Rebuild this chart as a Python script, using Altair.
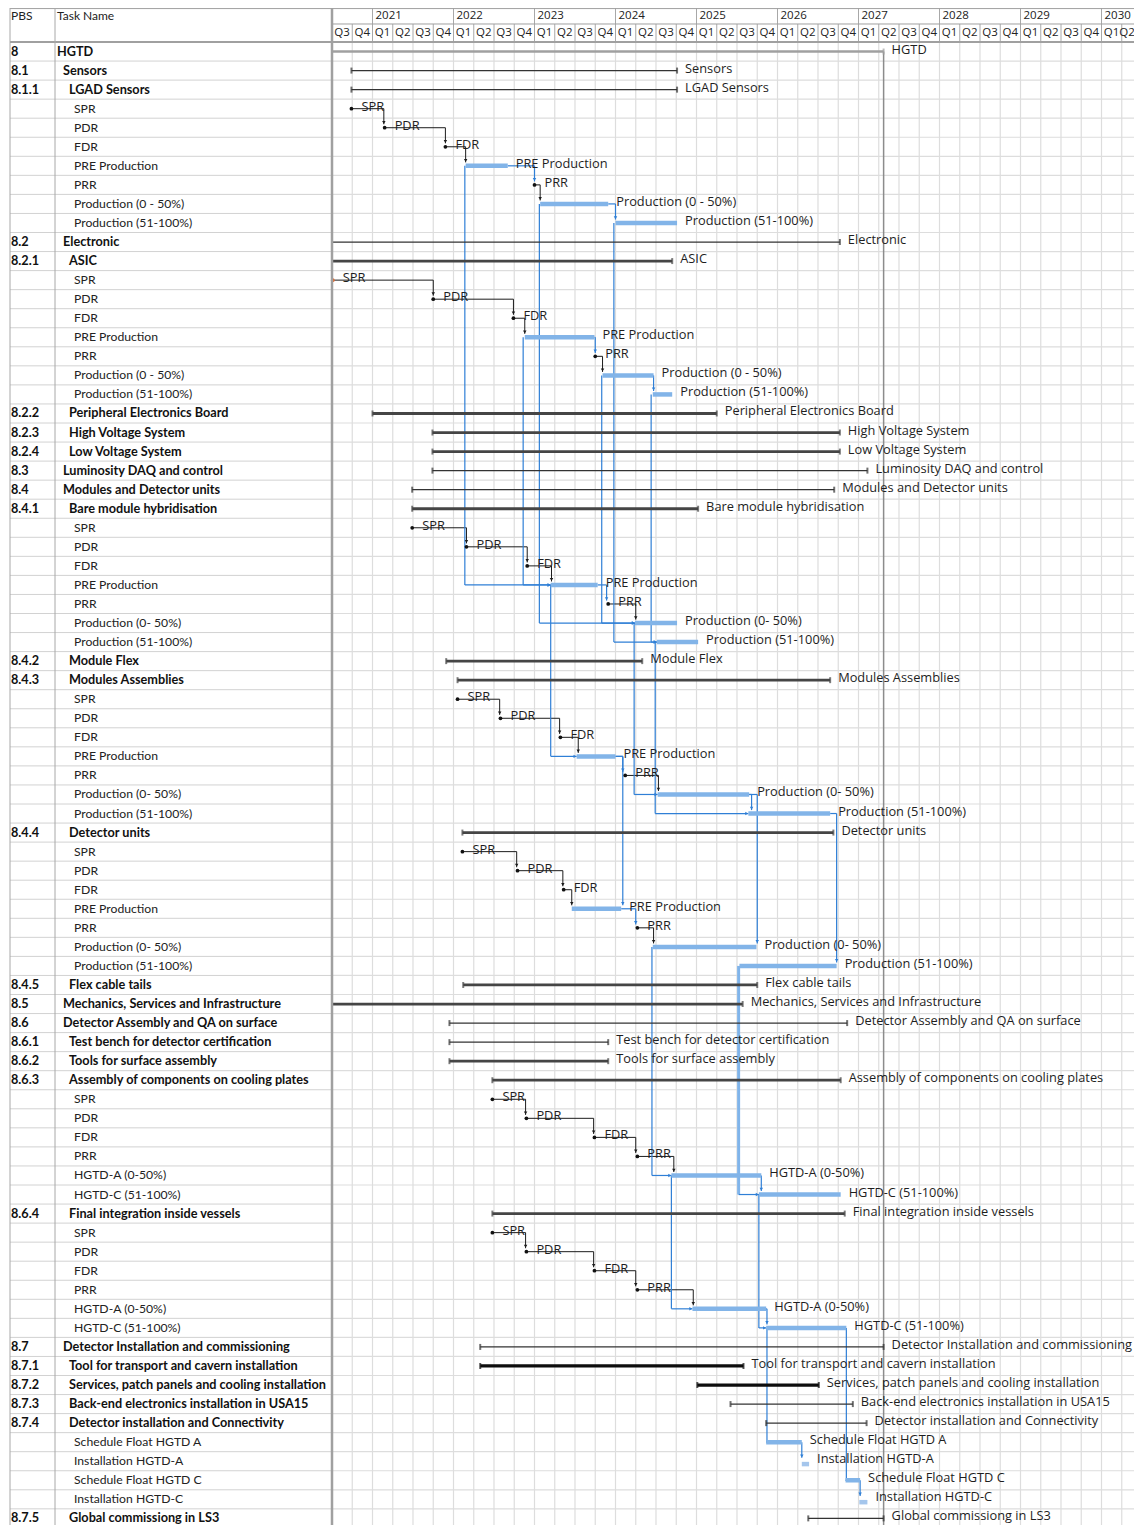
import altair as alt
import pandas as pd

# ---------------- data ----------------
pbs = ["8", "8.1", "8.1.1", "", "", "", "", "", "", "",
       "8.2", "8.2.1", "", "", "", "", "", "", "",
       "8.2.2", "8.2.3", "8.2.4", "8.3", "8.4", "8.4.1", "", "", "", "", "", "", "",
       "8.4.2", "8.4.3", "", "", "", "", "", "", "",
       "8.4.4", "", "", "", "", "", "", "",
       "8.4.5", "8.5", "8.6", "8.6.1", "8.6.2", "8.6.3", "", "", "", "", "", "",
       "8.6.4", "", "", "", "", "", "",
       "8.7", "8.7.1", "8.7.2", "8.7.3", "8.7.4", "", "", "", "", "8.7.5"]

task_names = [
    "HGTD", "Sensors", "LGAD Sensors", "SPR", "PDR", "FDR", "PRE Production", "PRR",
    "Production  (0 - 50%)", "Production  (51-100%)",
    "Electronic", "ASIC", "SPR", "PDR", "FDR", "PRE Production", "PRR",
    "Production  (0 - 50%)", "Production  (51-100%)",
    "Peripheral Electronics Board", "High Voltage System", "Low Voltage System",
    "Luminosity DAQ and control", "Modules and Detector units", "Bare module hybridisation",
    "SPR", "PDR", "FDR", "PRE Production", "PRR", "Production (0- 50%)", "Production (51-100%)",
    "Module Flex", "Modules Assemblies", "SPR", "PDR", "FDR", "PRE Production", "PRR",
    "Production (0- 50%)", "Production (51-100%)",
    "Detector units", "SPR", "PDR", "FDR", "PRE Production", "PRR",
    "Production (0- 50%)", "Production (51-100%)",
    "Flex cable tails", "Mechanics, Services and Infrastructure",
    "Detector Assembly and QA on surface", "Test bench for detector certification",
    "Tools for surface assembly", "Assembly of components on cooling plates",
    "SPR", "PDR", "FDR", "PRR", "HGTD-A (0-50%)", "HGTD-C (51-100%)",
    "Final integration inside vessels", "SPR", "PDR", "FDR", "PRR",
    "HGTD-A (0-50%)", "HGTD-C (51-100%)",
    "Detector Installation and commissioning", "Tool for transport and cavern installation",
    "Services, patch panels and cooling installation", "Back-end electronics installation in USA15",
    "Detector installation and Connectivity", "Schedule Float HGTD A", "Installation HGTD-A",
    "Schedule Float HGTD C", "Installation HGTD-C", "Global commissiong in LS3"]

# P project, s thin summary, S thick summary, K black summary, t task bar,
# i installation bar, m milestone, e milestone before the timescale
kinds = ["P", "s", "s", "m", "m", "m", "t", "m", "t", "t",
         "s", "S", "e", "m", "m", "t", "m", "t", "t",
         "S", "S", "S", "s", "s", "S", "m", "m", "m", "t", "m", "t", "t",
         "S", "S", "m", "m", "m", "t", "m", "t", "t",
         "S", "m", "m", "m", "t", "m", "t", "t",
         "S", "S", "s", "s", "S", "S", "m", "m", "m", "m", "t", "t",
         "S", "m", "m", "m", "m", "t", "t",
         "s", "K", "K", "s", "s", "t", "i", "t", "i", "s"]

starts = [2020.30, 2020.74, 2020.74, 2020.74, 2021.15, 2021.90, 2022.15, 2023.00, 2023.07, 2024.00,
          2020.30, 2020.30, 2020.51, 2021.75, 2022.74, 2022.88, 2023.75, 2023.84, 2024.46,
          2021.00, 2021.74, 2021.74, 2021.74, 2021.49, 2021.49, 2021.49, 2022.16, 2022.91, 2023.20,
          2023.91, 2024.24, 2024.51,
          2021.91, 2022.05, 2022.05, 2022.58, 2023.32, 2023.52, 2024.12, 2024.52, 2025.64,
          2022.11, 2022.11, 2022.79, 2023.36, 2023.46, 2024.27, 2024.46, 2025.53,
          2022.12, 2020.30, 2021.95, 2021.95, 2021.95, 2022.48, 2022.48, 2022.90, 2023.74, 2024.27,
          2024.69, 2025.77,
          2022.48, 2022.48, 2022.90, 2023.74, 2024.27, 2024.95, 2025.86,
          2022.33, 2022.33, 2025.01, 2025.42, 2025.86, 2025.86, 2026.30, 2026.84, 2027.01, 2026.38]

ends = [2027.31, 2024.76, 2024.76, 2020.74, 2021.15, 2021.90, 2022.67, 2023.00, 2023.91, 2024.76,
        2026.77, 2024.70, 2020.51, 2021.75, 2022.74, 2023.74, 2023.75, 2024.47, 2024.70,
        2025.25, 2026.77, 2026.77, 2027.11, 2026.70, 2025.02, 2021.49, 2022.16, 2022.91, 2023.78,
        2023.91, 2024.76, 2025.02,
        2024.33, 2026.65, 2022.05, 2022.58, 2023.32, 2024.00, 2024.12, 2025.65, 2026.65,
        2026.69, 2022.11, 2022.79, 2023.36, 2024.07, 2024.27, 2025.74, 2026.73,
        2025.75, 2025.57, 2026.86, 2023.91, 2023.91, 2026.78, 2022.48, 2022.90, 2023.74, 2024.27,
        2025.80, 2026.78,
        2026.83, 2022.48, 2022.90, 2023.74, 2024.27, 2025.86, 2026.85,
        2027.31, 2025.58, 2026.51, 2026.93, 2027.10, 2026.30, 2026.39, 2027.02, 2027.11, 2027.31]

project_finish = 2027.31

# dependency links: from row/x -> to row/x ; HV = across then down, VH = down then across
link_from_row = [3, 4, 5, 6, 7, 8, 12, 13, 14, 15, 16, 17,
                 25, 26, 27, 28, 29, 34, 35, 36, 37, 38, 39,
                 42, 43, 44, 45, 46, 55, 56, 57, 58, 59, 62, 63, 64, 65, 66, 73, 75,
                 37, 39, 40,
                 6, 15, 8, 17, 9, 18, 28, 30, 31, 47, 48, 59, 60, 67, 67]
link_from_x = [2020.74, 2021.15, 2021.90, 2022.67, 2023.00, 2023.91, 2020.51, 2021.75, 2022.74, 2023.74, 2023.75, 2024.47,
               2021.49, 2022.16, 2022.91, 2023.78, 2023.91, 2022.05, 2022.58, 2023.32, 2024.00, 2024.12, 2025.65,
               2022.11, 2022.79, 2023.36, 2024.07, 2024.27, 2022.48, 2022.90, 2023.74, 2024.27, 2025.80,
               2022.48, 2022.90, 2023.74, 2024.27, 2025.86, 2026.30, 2027.02,
               2024.00, 2025.65, 2026.65,
               2022.14, 2022.86, 2023.06, 2023.83, 2023.98, 2024.44, 2023.20, 2024.23, 2024.49,
               2024.45, 2025.52, 2024.69, 2025.77, 2025.87, 2026.85]
link_to_row = [4, 5, 6, 7, 8, 9, 13, 14, 15, 16, 17, 18,
               26, 27, 28, 29, 30, 35, 36, 37, 38, 39, 40,
               43, 44, 45, 46, 47, 56, 57, 58, 59, 60, 63, 64, 65, 66, 67, 74, 76,
               45, 47, 48,
               28, 28, 30, 30, 31, 31, 37, 39, 40, 59, 60, 66, 67, 73, 75]
link_to_x = [2021.14, 2021.90, 2022.15, 2023.00, 2023.07, 2024.00, 2021.75, 2022.74, 2022.88, 2023.75, 2023.84, 2024.47,
             2022.16, 2022.91, 2023.21, 2023.89, 2024.25, 2022.57, 2023.31, 2023.54, 2024.09, 2024.53, 2025.68,
             2022.78, 2023.35, 2023.46, 2024.25, 2024.47, 2022.89, 2023.73, 2024.25, 2024.72, 2025.80,
             2022.89, 2023.73, 2024.25, 2024.96, 2025.87, 2026.30, 2027.02,
             2024.09, 2025.75, 2026.73,
             2023.20, 2023.20, 2024.24, 2024.24, 2024.51, 2024.51, 2023.52, 2024.52, 2025.64,
             2024.69, 2025.77, 2024.95, 2025.86, 2025.86, 2026.84]
link_shape = (["HV"] * 43) + (["VH"] * 15)
link_style = ["k", "k", "k", "b", "k", "b", "k", "k", "k", "b", "k", "b",
              "k", "k", "k", "b", "k", "k", "k", "k", "b", "k", "b",
              "k", "k", "k", "b", "k", "k", "k", "k", "k", "b", "k", "k", "k", "k", "b", "b", "b",
              "b", "b", "b",
              "b", "b", "b", "b", "b", "b", "b", "b", "b", "b", "B", "b", "b", "b", "b"]

years = [2021, 2022, 2023, 2024, 2025, 2026, 2027, 2028, 2029, 2030]
quarter_labels = ["Q3", "Q4"] + ["Q1", "Q2", "Q3", "Q4"] * 9 + ["Q1", "Q2"]

# ---------------- layout ----------------
NROW = len(task_names)
W, H = 1126, 1517            # drawing fits the 1142x1533 window minus 8px margins
W_TAB = 324                  # table columns width (px)
YEAR_PX = 81.0               # px per year on the timescale
ROW_PX = 19.05
HDR_PX = 34.0
X0, X1 = 2020.5, 2030.5
XV = X0 + (W - W_TAB) / YEAR_PX   # last visible time value
HDR = -HDR_PX / ROW_PX
SEP = -0.945                 # line between year row and quarter row
YEAR_Y, QUARTER_Y = -1.36, -0.473

LABEL_FONT = "Open Sans"
LABEL_SIZE = 12.8
TABLE_FONT = "Lato"

xs = alt.Scale(domain=[X0, X1], range=[W_TAB, W_TAB + YEAR_PX * (X1 - X0)], clamp=True,
               nice=False, zero=False)
ys = alt.Scale(domain=[HDR, NROW], range=[0, HDR_PX + ROW_PX * NROW], nice=False, zero=False)


def X(f):
    return alt.X(f, type="quantitative", scale=xs, axis=None)


def Y(f):
    return alt.Y(f, type="quantitative", scale=ys, axis=None)


def PX(f):
    return alt.X(f, type="quantitative", scale=None)


df = pd.DataFrame(dict(row=list(range(NROW)), pbs=pbs, name=task_names, kind=kinds,
                       start=starts, end=ends))
df["yc"] = df["row"] + 0.5

quarter_pos = [X0 + 0.25 * k for k in range(len(quarter_labels))]

# ---------------- timescale grid & header ----------------
gv = pd.DataFrame({"x": quarter_pos[1:], "y0": 0.0, "y1": float(NROW)})
grid_v = alt.Chart(gv).mark_rule(color="#dddddd", strokeWidth=1.2).encode(
    x=X("x"), y=Y("y0"), y2="y1")
gh = pd.DataFrame({"y": [float(i) for i in range(1, NROW + 1)], "x0": X0, "x1": X1})
grid_h = alt.Chart(gh).mark_rule(color="#dddddd", strokeWidth=1.2).encode(
    x=X("x0"), x2="x1", y=Y("y"))

hq = pd.DataFrame({"x": quarter_pos[1:], "y0": SEP, "y1": 0.0})
hdr_q = alt.Chart(hq).mark_rule(color="#a8a8a8", strokeWidth=1).encode(x=X("x"), y=Y("y0"), y2="y1")
hy = pd.DataFrame({"x": [float(y) for y in years], "y0": HDR, "y1": SEP})
hdr_y = alt.Chart(hy).mark_rule(color="#a8a8a8", strokeWidth=1).encode(x=X("x"), y=Y("y0"), y2="y1")
hl = pd.DataFrame({"y": [HDR + 0.03, SEP, 0.0], "w": [1.0, 1.0, 2.0], "x0": X0, "x1": X1})
hdr_lines = alt.Chart(hl).mark_rule(color="#a0a0a0").encode(
    x=X("x0"), x2="x1", y=Y("y"), strokeWidth=alt.StrokeWidth("w:Q", scale=None))

yt = pd.DataFrame({"x": [float(y) for y in years], "t": [str(y) for y in years], "y": YEAR_Y})
year_text = alt.Chart(yt).mark_text(align="left", dx=3, fontSize=11.5, font=LABEL_FONT,
                                    color="#222222").encode(x=X("x"), y=Y("y"), text="t:N")
qt = pd.DataFrame({"x": [min(q + 0.125, XV - 0.085) for q in quarter_pos], "t": quarter_labels,
                   "y": QUARTER_Y})
quarter_text = alt.Chart(qt).mark_text(align="center", fontSize=11.5, font=LABEL_FONT,
                                       color="#222222").encode(x=X("x"), y=Y("y"), text="t:N")

edge = pd.DataFrame({"x": [X0], "y0": HDR, "y1": float(NROW)})
left_edge = alt.Chart(edge).mark_rule(color="#a0a0a0", strokeWidth=2.5).encode(
    x=X("x"), y=Y("y0"), y2="y1")

pf = pd.DataFrame({"x": [project_finish], "y0": 0.5, "y1": float(NROW)})
finish_line = alt.Chart(pf).mark_rule(color="#8c8c8c", strokeWidth=1.5).encode(
    x=X("x"), y=Y("y0"), y2="y1")

# ---------------- bars ----------------
style_col = {"P": "#a0a0a0", "s": "#333333", "S": "#454545", "K": "#0d0d0d"}
style_w = {"P": 2.5, "s": 1.3, "S": 2.8, "K": 3.2}
sm = df[df["kind"].isin(list(style_col))].copy()
sm["col"] = sm["kind"].map(style_col)
sm["sw"] = sm["kind"].map(style_w)
sum_bars = alt.Chart(sm).mark_rule(strokeCap="butt").encode(
    x=X("start"), x2="end", y=Y("yc"),
    color=alt.Color("col:N", scale=None), strokeWidth=alt.StrokeWidth("sw:Q", scale=None))
ticks = pd.concat([sm[["start", "yc", "col"]].rename(columns={"start": "x"}),
                   sm[["end", "yc", "col"]].rename(columns={"end": "x"})])
sum_ticks = alt.Chart(ticks).mark_tick(orient="vertical", size=6, thickness=2).encode(
    x=X("x"), y=Y("yc"), color=alt.Color("col:N", scale=None))

tk = df[df["kind"].isin(["t", "i"])].copy()
tk["yb"] = tk["yc"] + tk["kind"].map({"t": 0.0, "i": 0.15})
tk["col"] = tk["kind"].map({"t": "#82b4e8", "i": "#a5c6ec"})
task_bars = alt.Chart(tk).mark_rule(strokeWidth=4.5, strokeCap="butt").encode(
    x=X("start"), x2="end", y=Y("yb"), color=alt.Color("col:N", scale=None))

ms = df[df["kind"].isin(["m", "e"])].copy()
ms["col"] = ms["kind"].map({"m": "#111111", "e": "#e2692e"})
milestones = alt.Chart(ms).mark_point(filled=True, size=14, opacity=1).encode(
    x=X("start"), y=Y("yc"), color=alt.Color("col:N", scale=None))

# ---------------- links ----------------
seg_rows, arr_rows = [], []
link_col = {"k": "#1c1c1c", "b": "#2f7fd6", "B": "#80b4ea"}
link_w = {"k": 1.0, "b": 1.2, "B": 3.0}
for fr, fx, tr, tx, shp, sty in zip(link_from_row, link_from_x, link_to_row, link_to_x,
                                    link_shape, link_style):
    yf, yt_ = fr + 0.5, tr + 0.5
    if shp == "HV":
        seg_rows.append((fx, tx, yf, yf, sty))
        seg_rows.append((tx, tx, yf, yt_ - 0.18, sty))
        arr_rows.append((tx, yt_ - 0.28, "triangle-down", sty))
    else:
        seg_rows.append((fx, fx, yf, yt_, sty))
        seg_rows.append((fx, tx, yt_, yt_, "b" if sty == "B" else sty))
        if abs(tx - fx) > 0.03:
            arr_rows.append((tx - 0.02, yt_, "triangle-right", "b"))
segs = pd.DataFrame(seg_rows, columns=["x0", "x1", "y0", "y1", "sty"])
segs["col"] = segs["sty"].map(link_col)
segs["w"] = segs["sty"].map(link_w)
link_lines = alt.Chart(segs).mark_rule(strokeCap="butt").encode(
    x=X("x0"), x2="x1", y=Y("y0"), y2="y1",
    color=alt.Color("col:N", scale=None), strokeWidth=alt.StrokeWidth("w:Q", scale=None))
arrs = pd.DataFrame(arr_rows, columns=["x", "y", "shape", "sty"])
arrs["col"] = arrs["sty"].map({"k": "#1c1c1c", "b": "#2f7fd6", "B": "#2f7fd6"})
arrows = alt.Chart(arrs).mark_point(filled=True, size=12, opacity=1).encode(
    x=X("x"), y=Y("y"), shape=alt.Shape("shape:N", scale=None), color=alt.Color("col:N", scale=None))

# ---------------- labels on the timescale ----------------
lb_bar = df[~df["kind"].isin(["m", "e"])].copy()
lb_ms = df[df["kind"].isin(["m", "e"])].copy()
bar_labels = alt.Chart(lb_bar).mark_text(align="left", dx=8, dy=-2, fontSize=LABEL_SIZE, font=LABEL_FONT,
                                         color="#1e1e1e").encode(x=X("end"), y=Y("yc"), text="name:N")
ms_labels = alt.Chart(lb_ms).mark_text(align="left", dx=10, dy=-2, fontSize=LABEL_SIZE, font=LABEL_FONT,
                                       color="#1e1e1e").encode(x=X("start"), y=Y("yc"), text="name:N")

# ---------------- table columns ----------------
tb = df.copy()
tb["lvl"] = [(p.count(".") + 1) if p else 4 for p in pbs]
tb["tx"] = tb["lvl"].map({1: 49, 2: 55, 3: 61, 4: 66})
tb["px"] = 3
bold_rows = tb[tb["pbs"] != ""]
norm_rows = tb[tb["pbs"] == ""]

th = pd.DataFrame({"y": [float(i) for i in range(1, NROW + 1)]})
tab_h = alt.Chart(th).mark_rule(color="#d2d2d2", strokeWidth=1).encode(
    x=alt.value(2), x2=alt.value(W_TAB), y=Y("y"))
thl = pd.DataFrame({"y": [HDR + 0.03, 0.0], "w": [1.0, 2.0]})
tab_hdr_lines = alt.Chart(thl).mark_rule(color="#a0a0a0").encode(
    x=alt.value(2), x2=alt.value(W_TAB), y=Y("y"), strokeWidth=alt.StrokeWidth("w:Q", scale=None))
tv = pd.DataFrame({"px": [2, 47], "y0": HDR, "y1": float(NROW)})
tab_v = alt.Chart(tv).mark_rule(color="#a8a8a8", strokeWidth=1).encode(
    x=PX("px"), y=Y("y0"), y2="y1")

hdr_txt = pd.DataFrame({"px": [3, 49], "t": ["PBS", "Task Name"], "y": YEAR_Y})
tab_hdr_text = alt.Chart(hdr_txt).mark_text(align="left", fontSize=12, font=TABLE_FONT,
                                            color="#222222").encode(x=PX("px"), y=Y("y"), text="t:N")
pbs_text = alt.Chart(bold_rows).mark_text(align="left", fontSize=12.7, font=TABLE_FONT,
                                          fontWeight="bold", color="#111111").encode(
    x=PX("px"), y=Y("yc"), text="pbs:N")
name_bold = alt.Chart(bold_rows).mark_text(align="left", fontSize=12.7, font=TABLE_FONT,
                                           fontWeight="bold", color="#111111").encode(
    x=PX("tx"), y=Y("yc"), text="name:N")
name_norm = alt.Chart(norm_rows).mark_text(align="left", fontSize=12.2, font=TABLE_FONT,
                                           color="#222222").encode(
    x=PX("tx"), y=Y("yc"), text="name:N")

chart = alt.layer(
    tab_h, tab_hdr_lines, tab_v, tab_hdr_text, pbs_text, name_bold, name_norm,
    grid_v, grid_h, hdr_q, hdr_y, hdr_lines, year_text, quarter_text,
    finish_line, link_lines, sum_bars, sum_ticks, task_bars, milestones, arrows,
    bar_labels, ms_labels, left_edge
).properties(
    width=W, height=H, padding=0, background="white",
    autosize=alt.AutoSizeParams(type="none")
).configure_view(stroke=None)

chart.save("out.html", embed_options={"renderer": "svg", "actions": False})
